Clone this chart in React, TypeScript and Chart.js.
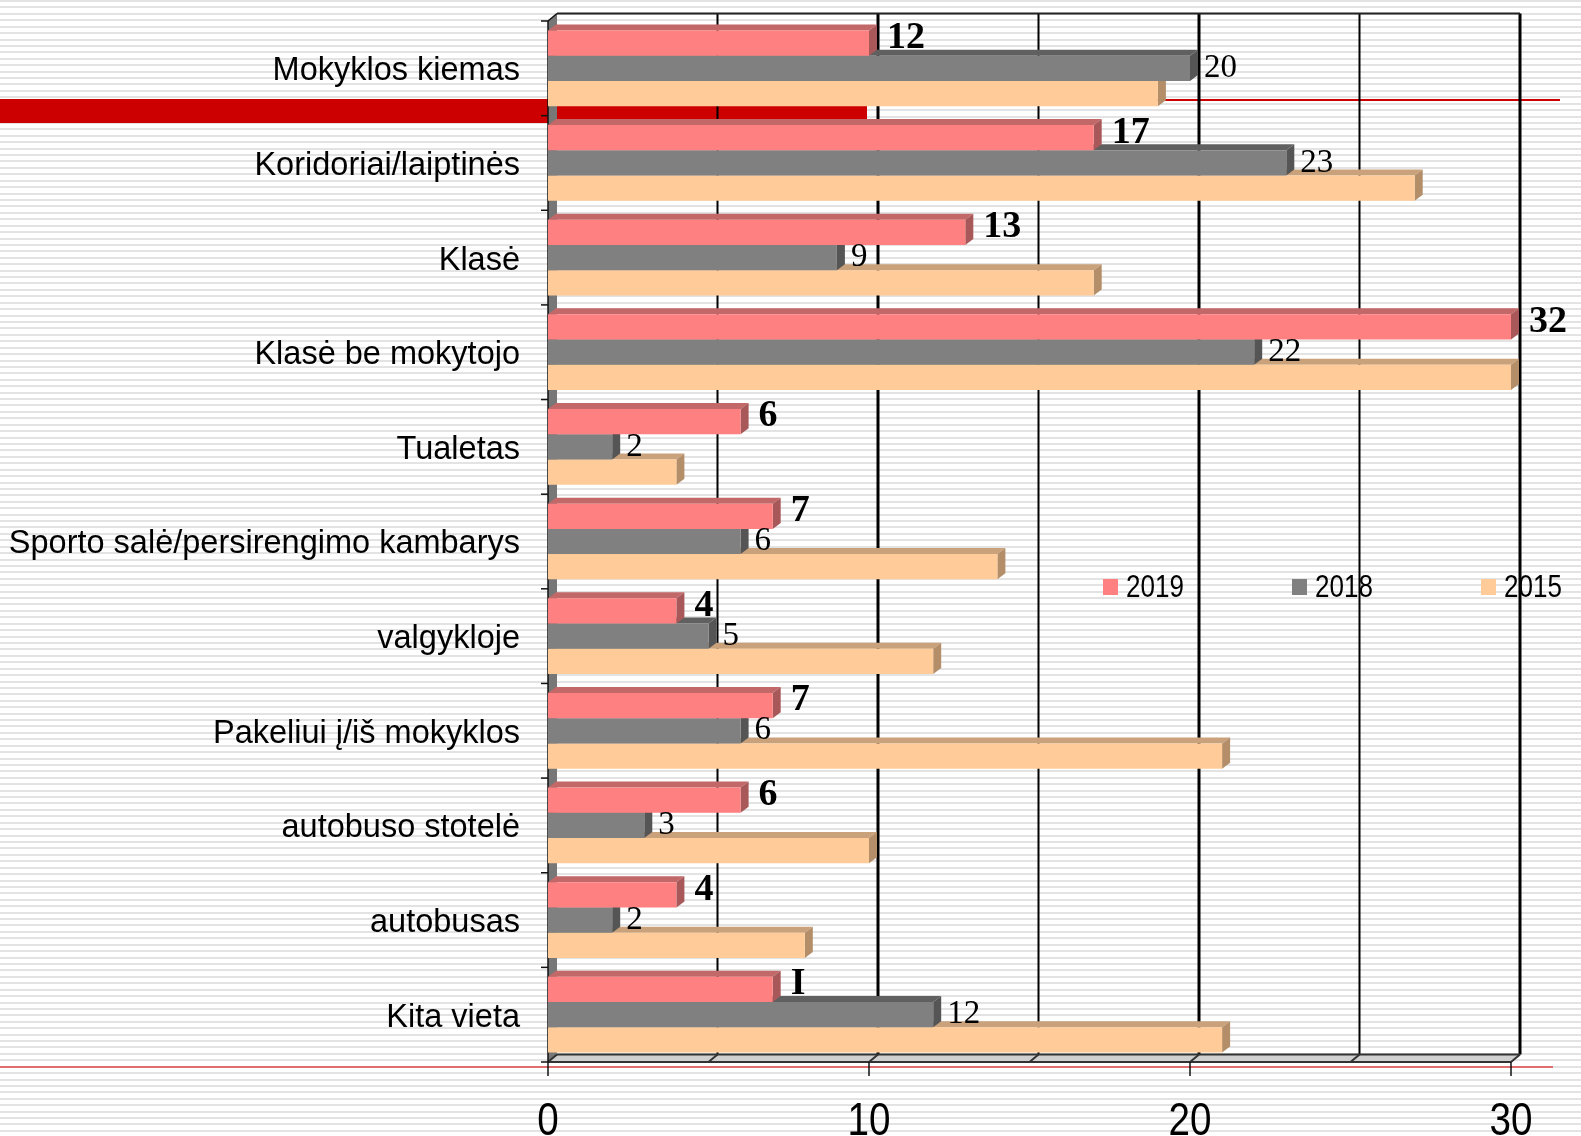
import React, { useEffect, useRef } from 'react';
import { Chart, registerables } from 'chart.js';

Chart.register(...registerables);

const categories = [
  'Mokyklos kiemas',
  'Koridoriai/laiptinės',
  'Klasė',
  'Klasė be mokytojo',
  'Tualetas',
  'Sporto salė/persirengimo kambarys',
  'valgykloje',
  'Pakeliui į/iš mokyklos',
  'autobuso stotelė',
  'autobusas',
  'Kita vieta',
];
const seriesNames = ['2019', '2018', '2015'];
const values2019 = [10, 17, 13, 30, 6, 7, 4, 7, 6, 4, 7];
const values2018 = [20, 23, 9, 22, 2, 6, 5, 6, 3, 2, 12];
const values2015 = [19, 27, 17, 30, 4, 14, 12, 21, 10, 8, 21];
const labels2019 = ['12', '17', '13', '32', '6', '7', '4', '7', '6', '4', 'I'];
const labels2018 = ['20', '23', '9', '22', '2', '6', '5', '6', '3', '2', '12'];
const xTickLabels = [0, 10, 20, 30];
const gridValues = [5, 10, 15, 20, 25, 30];

const W = 1581;
const H = 1136;
const frontColors = ['#FF8080', '#808080', '#FFCC99'];
const topColors = ['#C26868', '#606060', '#C9A27C'];
const sideColors = ['#A85858', '#555555', '#B48E68'];
const BAR_DX = 8;
const BAR_DY = 6;
const WALL_DX = 9;
const WALL_DY = 7.5;

function line(ctx: CanvasRenderingContext2D, x1: number, y1: number, x2: number, y2: number) {
  ctx.beginPath();
  ctx.moveTo(x1, y1);
  ctx.lineTo(x2, y2);
  ctx.stroke();
}

function narrowText(ctx: CanvasRenderingContext2D, text: string, x: number, y: number, size: number, align: CanvasTextAlign) {
  ctx.save();
  ctx.translate(x, y);
  ctx.scale(0.84, 1);
  ctx.font = `${size}px "Liberation Sans", Arial, sans-serif`;
  ctx.textAlign = align;
  ctx.textBaseline = 'middle';
  ctx.fillStyle = '#000';
  ctx.fillText(text, 0, 0);
  ctx.restore();
}

const decorPlugin = {
  id: 'decor3d',
  beforeDraw(chart: any) {
    const ctx: CanvasRenderingContext2D = chart.ctx;
    const { left, right, top, bottom } = chart.chartArea;
    const xs = chart.scales.x;
    const ys = chart.scales.y;
    ctx.save();
    // background with stripes
    ctx.fillStyle = '#ffffff';
    ctx.fillRect(0, 0, W, H);
    ctx.fillStyle = '#e3e3e3';
    for (let y = 0; y < H; y += 6.42) ctx.fillRect(0, Math.round(y), W, 2);
    // slide decorations
    ctx.fillStyle = '#CC0000';
    ctx.fillRect(0, 99, 867, 24);
    ctx.fillRect(867, 99, 693, 2);
    ctx.fillStyle = '#E07070';
    ctx.fillRect(0, 1066, 1553, 2);

    // legend
    const legendX = [1103, 1292, 1481];
    seriesNames.forEach((name, i) => {
      ctx.fillStyle = frontColors[i];
      ctx.fillRect(legendX[i], 579, 15, 16);
      narrowText(ctx, name, legendX[i] + 23, 588, 31, 'left');
    });

    // left wall
    ctx.fillStyle = '#777777';
    ctx.beginPath();
    ctx.moveTo(left, top);
    ctx.lineTo(left + WALL_DX, top - WALL_DY);
    ctx.lineTo(left + WALL_DX, bottom - WALL_DY);
    ctx.lineTo(left, bottom);
    ctx.closePath();
    ctx.fill();
    // floor
    ctx.fillStyle = '#d0d0d0';
    ctx.beginPath();
    ctx.moveTo(left, bottom);
    ctx.lineTo(left + WALL_DX, bottom - WALL_DY);
    ctx.lineTo(right + WALL_DX, bottom - WALL_DY);
    ctx.lineTo(right, bottom);
    ctx.closePath();
    ctx.fill();

    // back wall grid lines
    ctx.strokeStyle = '#000';
    gridValues.forEach((v) => {
      const px = xs.getPixelForValue(v) + WALL_DX;
      ctx.lineWidth = v % 10 === 0 ? 3 : 2;
      line(ctx, px, top - WALL_DY, px, bottom - WALL_DY);
    });
    // back wall top edge
    ctx.strokeStyle = '#222';
    ctx.lineWidth = 2;
    line(ctx, left + WALL_DX, top - WALL_DY, right + WALL_DX, top - WALL_DY);
    // floor edges
    ctx.strokeStyle = '#333';
    ctx.lineWidth = 2;
    line(ctx, left + WALL_DX, bottom - WALL_DY, right + WALL_DX, bottom - WALL_DY);
    line(ctx, left, bottom, right, bottom);
    [0, ...gridValues].forEach((v) => {
      const px = xs.getPixelForValue(v);
      line(ctx, px, bottom, px + WALL_DX, bottom - WALL_DY);
    });
    // left axis
    ctx.strokeStyle = '#111';
    ctx.lineWidth = 1.5;
    line(ctx, left, top, left, bottom);
    line(ctx, left, top, left + WALL_DX, top - WALL_DY);
    // category ticks
    const c0 = ys.getPixelForValue(0);
    const band = ys.getPixelForValue(1) - c0;
    for (let i = 0; i <= categories.length; i++) {
      const y = c0 - band / 2 + i * band;
      line(ctx, left - 7, y, left, y);
    }
    // front x ticks
    xTickLabels.forEach((v) => {
      const px = xs.getPixelForValue(v);
      line(ctx, px, bottom, px, bottom + 14);
    });
    ctx.restore();
  },
  beforeDatasetsDraw(chart: any) {
    const ctx: CanvasRenderingContext2D = chart.ctx;
    ctx.save();
    const n = chart.data.datasets.length;
    for (let d = n - 1; d >= 0; d--) {
      const meta = chart.getDatasetMeta(d);
      meta.data.forEach((bar: any) => {
        const { x, y, base, height } = bar.getProps(['x', 'y', 'base', 'height'], true);
        const t = y - height / 2;
        const b = y + height / 2;
        ctx.fillStyle = topColors[d];
        ctx.beginPath();
        ctx.moveTo(base, t);
        ctx.lineTo(x, t);
        ctx.lineTo(x + BAR_DX, t - BAR_DY);
        ctx.lineTo(base + BAR_DX, t - BAR_DY);
        ctx.closePath();
        ctx.fill();
        ctx.fillStyle = sideColors[d];
        ctx.beginPath();
        ctx.moveTo(x, t);
        ctx.lineTo(x + BAR_DX, t - BAR_DY);
        ctx.lineTo(x + BAR_DX, b - BAR_DY);
        ctx.lineTo(x, b);
        ctx.closePath();
        ctx.fill();
      });
    }
    ctx.restore();
  },
  afterDatasetsDraw(chart: any) {
    const ctx: CanvasRenderingContext2D = chart.ctx;
    const { left, bottom } = chart.chartArea;
    const xs = chart.scales.x;
    const ys = chart.scales.y;
    ctx.save();
    // data labels
    ctx.fillStyle = '#000';
    ctx.textBaseline = 'middle';
    ctx.textAlign = 'left';
    const m0 = chart.getDatasetMeta(0);
    ctx.font = 'bold 38px "Liberation Serif", "Times New Roman", serif';
    m0.data.forEach((bar: any, i: number) => {
      ctx.fillText(labels2019[i], bar.x + BAR_DX + 10, bar.y - 5);
    });
    const m1 = chart.getDatasetMeta(1);
    ctx.font = '33px "Liberation Serif", "Times New Roman", serif';
    m1.data.forEach((bar: any, i: number) => {
      ctx.fillText(labels2018[i], bar.x + BAR_DX + 6, bar.y);
    });
    // category labels
    ctx.font = '32.5px "Liberation Sans", Arial, sans-serif';
    ctx.fillStyle = '#000';
    ctx.textAlign = 'right';
    categories.forEach((c, i) => {
      ctx.fillText(c, left - 28, ys.getPixelForValue(i) + 3);
    });
    // x tick labels
    xTickLabels.forEach((v) => {
      narrowText(ctx, String(v), xs.getPixelForValue(v), bottom + 60, 46, 'center');
    });
    ctx.restore();
  },
};

export default function App() {
  const ref = useRef<HTMLCanvasElement | null>(null);
  useEffect(() => {
    if (!ref.current) return;
    const chart = new Chart(ref.current, {
      type: 'bar',
      data: {
        labels: categories,
        datasets: [
          { label: seriesNames[0], data: values2019, backgroundColor: frontColors[0] },
          { label: seriesNames[1], data: values2018, backgroundColor: frontColors[1] },
          { label: seriesNames[2], data: values2015, backgroundColor: frontColors[2] },
        ],
      },
      options: {
        indexAxis: 'y',
        responsive: false,
        animation: false,
        devicePixelRatio: 1,
        layout: { padding: { left: 548, right: 70, top: 21, bottom: 74 } },
        datasets: { bar: { categoryPercentage: 0.8, barPercentage: 1, borderWidth: 0 } },
        scales: {
          x: { display: false, min: 0, max: 30, ticks: { stepSize: 5 } },
          y: { display: false },
        },
        plugins: { legend: { display: false }, tooltip: { enabled: false } },
      },
      plugins: [decorPlugin],
    } as any);
    return () => chart.destroy();
  }, []);
  return (
    <div style={{ position: 'fixed', left: 0, top: 0, width: W, height: H }}>
      <canvas ref={ref} width={W} height={H} style={{ display: 'block' }} />
    </div>
  );
}
